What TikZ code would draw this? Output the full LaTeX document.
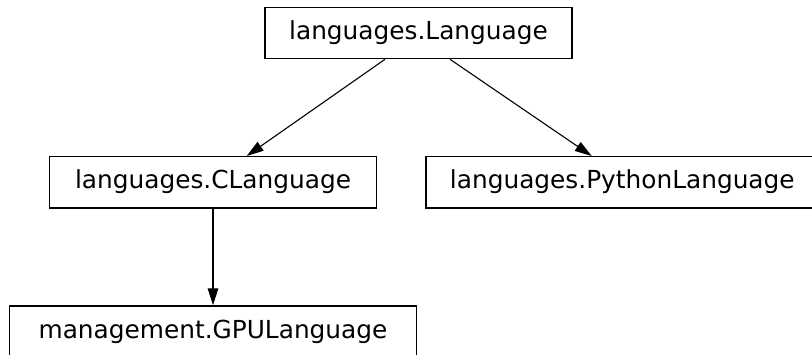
\documentclass[tikz,border=0pt]{standalone}
\usepackage{fontspec}
\setmainfont{DejaVu Sans}
\usetikzlibrary{arrows.meta}
\begin{document}
\begin{tikzpicture}[x=1pt,y=-1pt,
  cls/.style={draw=black, line width=1.3pt, fill=white, inner sep=0pt,
    minimum height=51.3pt, text height=18pt, text depth=5pt,
    font=\fontsize{24.8pt}{28pt}\selectfont},
  inh/.style={draw=black, line width=1.1pt, -{Triangle[length=17pt,width=10.5pt]}}]
\useasboundingbox (0,0) rectangle (812,354);
\clip (0,0) rectangle (812,354);
\node[cls, minimum width=307pt] (lang) at (418.5,33) {languages.Language};
\node[cls, minimum width=327.4pt] (clang) at (213,182.3) {languages.CLanguage};
\node[cls, minimum width=392.6pt] (py) at (622.3,182.3) {languages.PythonLanguage};
\node[cls, minimum width=407.4pt] (gpu) at (213,331.6) {management.GPULanguage};
\draw[inh] ([xshift=-33.5pt]lang.south) -- ([xshift=33.7pt]clang.north);
\draw[inh] ([xshift=31.5pt]lang.south) -- ([xshift=-30.6pt]py.north);
\draw[inh] (clang) -- (gpu);
\end{tikzpicture}
\end{document}
